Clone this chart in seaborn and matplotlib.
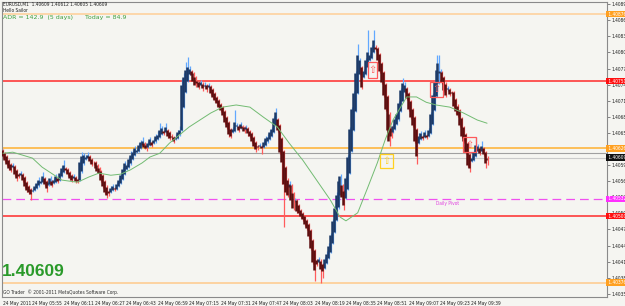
import numpy as np
import matplotlib
matplotlib.use("Agg")
import matplotlib.pyplot as plt
import matplotlib.font_manager as fm
import seaborn as sns
from matplotlib.patches import Rectangle

# Heiken Ashi M1 bars, prices as points above 1.40000 (1 point = 0.00001)
ha_open = [
    623, 617, 611, 604, 597, 591, 593, 585, 578, 576,
    578, 573, 564, 556, 550, 546, 548, 552, 557, 562,
    564, 570, 565, 558, 560, 565, 562, 564, 570, 568,
    574, 582, 589, 587, 582, 576, 571, 572, 569, 567,
    583, 598, 606, 608, 611, 606, 601, 600, 595, 589,
    584, 576, 566, 555, 547, 545, 548, 552, 551, 556,
    561, 569, 578, 588, 591, 598, 606, 613, 620, 621,
    627, 632, 636, 632, 629, 632, 638, 636, 639, 644,
    647, 653, 658, 657, 661, 656, 650, 648, 644, 646,
    652, 660, 703, 731, 752, 765, 770, 766, 759, 752,
    750, 745, 747, 742, 744, 740, 742, 736, 729, 722,
    716, 709, 703, 695, 685, 675, 663, 656, 659, 667,
    668, 664, 668, 666, 662, 664, 659, 654, 647, 638,
    631, 630, 631, 629, 633, 639, 643, 650, 656, 669,
    681, 670, 645, 622, 591, 568, 554, 557, 543, 529,
    529, 520, 512, 506, 500, 492, 485, 473, 456, 436,
    418, 414, 417, 410, 404, 412, 421, 433, 449, 470,
    492, 516, 540, 557, 546, 533, 551, 580, 621, 660,
    695, 730, 765, 778, 759, 764, 777, 791, 795, 805,
    816, 814, 802, 786, 768, 746, 723, 691, 665, 657,
    662, 671, 680, 695, 715, 731, 738, 729, 714, 700,
    685, 662, 637, 643, 649, 647, 651, 650, 655, 672,
    698, 724, 748, 766, 768, 759, 747, 736, 737, 732,
    731, 718, 706, 697, 683, 666, 653, 636, 615, 602,
    605, 612, 622, 626, 622, 626, 620, 609,
]
ha_close = [
    612, 605, 597, 590, 586, 595, 578, 570, 575, 580,
    568, 556, 548, 545, 541, 549, 556, 562, 568, 566,
    575, 560, 552, 563, 570, 558, 567, 575, 566, 580,
    590, 596, 585, 578, 571, 567, 574, 566, 565, 600,
    612, 614, 610, 614, 602, 597, 600, 590, 584, 580,
    568, 556, 545, 540, 542, 552, 556, 551, 560, 567,
    577, 588, 598, 595, 606, 614, 620, 627, 623, 632,
    638, 640, 629, 626, 636, 644, 633, 642, 649, 651,
    660, 664, 655, 666, 650, 645, 647, 640, 648, 657,
    660, 745, 760, 772, 778, 775, 762, 752, 745, 748,
    740, 749, 738, 745, 736, 744, 730, 722, 716, 710,
    703, 698, 688, 676, 666, 652, 650, 662, 675, 670,
    660, 672, 664, 658, 666, 654, 650, 640, 630, 625,
    628, 632, 627, 638, 645, 648, 656, 662, 682, 693,
    660, 620, 600, 560, 545, 540, 560, 530, 515, 530,
    510, 505, 500, 495, 485, 478, 462, 440, 415, 400,
    410, 420, 402, 398, 420, 430, 445, 465, 490, 515,
    540, 565, 574, 535, 520, 570, 610, 662, 700, 730,
    766, 800, 790, 740, 770, 790, 805, 800, 815, 828,
    812, 790, 770, 750, 725, 700, 660, 640, 650, 668,
    680, 690, 710, 735, 748, 745, 720, 700, 685, 670,
    640, 612, 650, 655, 645, 656, 648, 660, 690, 725,
    750, 772, 785, 770, 750, 735, 725, 738, 728, 730,
    705, 695, 688, 670, 650, 640, 620, 595, 590, 608,
    620, 632, 630, 618, 630, 615, 598, 604,
]
ha_high = [
    625, 619, 613, 606, 599, 599, 595, 587, 580, 584,
    580, 575, 566, 558, 552, 553, 560, 566, 572, 570,
    582, 572, 567, 567, 574, 567, 571, 579, 572, 584,
    594, 604, 591, 589, 584, 578, 578, 574, 571, 604,
    619, 618, 614, 619, 613, 608, 603, 602, 597, 591,
    586, 578, 568, 557, 549, 556, 560, 554, 564, 571,
    581, 592, 602, 599, 610, 621, 624, 631, 627, 636,
    642, 648, 638, 634, 640, 648, 640, 646, 653, 658,
    673, 668, 660, 673, 663, 658, 652, 650, 652, 661,
    668, 755, 766, 788, 797, 780, 772, 768, 761, 754,
    752, 753, 749, 749, 746, 748, 744, 738, 731, 724,
    718, 711, 705, 697, 687, 677, 665, 666, 698, 674,
    670, 676, 670, 668, 670, 666, 661, 656, 649, 640,
    633, 636, 633, 642, 649, 652, 660, 666, 686, 701,
    683, 672, 647, 624, 593, 570, 566, 559, 545, 534,
    531, 522, 514, 508, 502, 494, 487, 475, 458, 438,
    420, 424, 419, 412, 424, 434, 449, 469, 494, 519,
    544, 569, 578, 559, 548, 574, 614, 666, 704, 734,
    770, 820, 794, 780, 774, 794, 847, 804, 819, 847,
    818, 816, 804, 788, 770, 748, 725, 693, 667, 672,
    684, 694, 714, 739, 757, 749, 740, 731, 716, 702,
    687, 664, 654, 659, 651, 660, 653, 664, 694, 729,
    754, 800, 800, 774, 770, 761, 749, 742, 739, 734,
    733, 720, 708, 699, 685, 668, 655, 638, 617, 612,
    624, 648, 634, 628, 640, 628, 622, 611,
]
ha_low = [
    608, 601, 593, 586, 582, 589, 574, 566, 571, 574,
    564, 552, 544, 541, 530, 544, 546, 550, 555, 560,
    562, 556, 545, 556, 558, 554, 560, 562, 562, 566,
    572, 580, 581, 574, 567, 563, 569, 562, 561, 565,
    581, 596, 604, 606, 598, 593, 596, 586, 580, 576,
    564, 552, 541, 534, 538, 543, 546, 547, 549, 554,
    559, 567, 576, 586, 589, 596, 604, 611, 618, 619,
    625, 630, 625, 622, 627, 630, 629, 634, 637, 642,
    645, 651, 651, 655, 646, 641, 643, 636, 642, 644,
    650, 658, 701, 729, 750, 763, 758, 748, 741, 744,
    736, 743, 734, 740, 732, 738, 726, 718, 712, 706,
    699, 694, 684, 672, 662, 648, 646, 654, 657, 665,
    656, 662, 660, 654, 660, 650, 646, 636, 626, 620,
    624, 628, 616, 627, 631, 637, 641, 648, 654, 667,
    656, 616, 560, 480, 541, 536, 552, 526, 511, 527,
    506, 501, 496, 491, 481, 474, 458, 436, 411, 378,
    406, 412, 376, 385, 402, 410, 419, 431, 447, 468,
    490, 514, 538, 531, 512, 531, 549, 578, 619, 658,
    693, 728, 763, 736, 757, 762, 775, 789, 793, 803,
    808, 786, 766, 746, 721, 696, 656, 630, 646, 655,
    660, 669, 678, 693, 713, 729, 716, 696, 681, 666,
    636, 597, 635, 641, 641, 645, 644, 648, 653, 670,
    696, 722, 746, 764, 746, 731, 721, 734, 724, 726,
    701, 691, 684, 666, 646, 636, 616, 591, 582, 600,
    603, 610, 620, 614, 620, 611, 590, 596,
]

# moving average (green), read at sample bars
ma_bar = [0, 5, 15, 20, 30, 38, 44, 49, 55, 60, 65, 71, 75, 80, 85, 95,
          106, 112, 119, 126, 133, 140, 146, 153, 160, 167, 172, 175, 181,
          186, 191, 195, 199, 206, 211, 216, 221, 228, 235, 242, 247]
ma_pts = [617, 619, 608, 591, 567, 563, 573, 580, 576, 578, 586, 599, 610,
          617, 636, 666, 692, 703, 707, 703, 684, 666, 636, 604, 567, 530,
          498, 491, 506, 552, 599, 642, 679, 722, 722, 712, 707, 703, 692,
          679, 673]

# horizontal levels
level_pts = [876, 751, 626, 617, 609, 532, 500, 376]
level_col = ["#ffcf96", "#ff2a2a", "#ffb030", "#a0a0a0", "#cacaca",
             "#f050f0", "#ff2a2a", "#ffc98a"]
level_lw = [1.1, 1.1, 1.1, 0.8, 0.8, 0.9, 1.1, 1.1]
level_ls = ["-", "-", "-", "-", "-", (0, (7, 4)), "-", "-"]

# price tags on the right axis
tag_pts = [876, 751, 626, 609, 532, 500, 376]
tag_col = ["#ffa020", "#ff1010", "#ffa020", "#101010", "#ff30ff",
           "#ff1010", "#ffa020"]

# signal boxes (bar from, bar to, low, high)
sig_b0 = [186, 218, 234.5, 192.5]
sig_b1 = [191, 224.5, 241.5, 199]
sig_lo = [757, 722, 619, 589]
sig_hi = [787, 750, 647, 616]
sig_col = ["#ff5a5a", "#ff5a5a", "#ff5a5a", "#ffd020"]

xtick_bars = [0, 15, 31, 47, 63, 79, 95, 111, 127, 143, 159, 175, 191,
              207, 223, 239]
xtick_labels = ["24 May 2011", "24 May 05:55", "24 May 06:11",
                "24 May 06:27", "24 May 06:43", "24 May 06:59",
                "24 May 07:15", "24 May 07:31", "24 May 07:47",
                "24 May 08:03", "24 May 08:19", "24 May 08:35",
                "24 May 08:51", "24 May 09:07", "24 May 09:23",
                "24 May 09:39"]
ytick_pts = list(range(355, 900, 30))


def px(p):
    return 1.4 + np.asarray(p, dtype=float) * 1e-5


sns.set_style("white")
plt.rcParams["font.family"] = ["Liberation Sans", "DejaVu Sans"]
bg = "#f5f5f1"

# pick the narrowest small font available
names = {f.name for f in fm.fontManager.ttflist}
stretches = {(f.name, str(f.stretch)) for f in fm.fontManager.ttflist}
if "Liberation Sans Narrow" in names:
    small = dict(family="Liberation Sans Narrow")
elif ("DejaVu Sans", "condensed") in stretches or ("DejaVu Sans", "semi-condensed") in stretches:
    small = dict(family="DejaVu Sans", stretch="condensed")
else:
    small = dict(family="Liberation Sans")

fig = plt.figure(figsize=(6.25, 3.06), dpi=100, facecolor=bg)
ax = fig.add_axes([2 / 625, 9 / 306, 605 / 625, 295 / 306], facecolor=bg)

# size the small font so "24 May 05:55" is about 29 px wide, like the terminal
rend = fig.canvas.get_renderer()
probe = fig.text(0, 0, "24 May 05:55", fontsize=10, **small)
w10 = probe.get_window_extent(rend).width
probe.remove()
fs = min(5.2, 10 * 30 / w10)
small["fontsize"] = fs

o, c, h, l = px(ha_open), px(ha_close), px(ha_high), px(ha_low)
x = np.arange(len(o))
bull = c >= o

for lv, col, lw, ls in zip(level_pts, level_col, level_lw, level_ls):
    ax.axhline(px(lv), color=col, lw=lw, ls=ls, zorder=1)

ax.vlines(x[bull] + 0.25, l[bull], h[bull], color="#62a8ff", lw=0.9, zorder=2)
ax.vlines(x[~bull] + 0.25, l[~bull], h[~bull], color="#ff5c5c", lw=0.9, zorder=2)
ax.vlines(x[bull] - 0.3, o[bull], c[bull], color="#1d3a66", lw=1.8, zorder=3)
ax.vlines(x[~bull] - 0.3, o[~bull], c[~bull], color="#5c0f10", lw=1.8, zorder=3)

sns.lineplot(x=ma_bar, y=px(ma_pts), ax=ax, color="#72bb72", lw=0.7,
             estimator=None, sort=False, zorder=4)

for b0, b1, lo, hi, col in zip(sig_b0, sig_b1, sig_lo, sig_hi, sig_col):
    ax.add_patch(Rectangle((b0, px(lo)), b1 - b0, px(hi) - px(lo),
                           fill=False, ec=col, lw=0.9, zorder=5))
    ax.text((b0 + b1) / 2, (px(lo) + px(hi)) / 2, "\u21e7", color=col,
            fontsize=7, ha="center", va="center", family="DejaVu Sans",
            zorder=5)

ax.text(221, px(524), "Daily Pivot", color="#e040e0", va="center",
        ha="left", **small)

ax.set_xlim(-0.5, 308.2)
ax.set_ylim(px(349), px(899))
ax.set_xticks(xtick_bars)
ax.set_xticklabels(xtick_labels, ha="left", **small)
ax.yaxis.tick_right()
ax.set_yticks(px(ytick_pts))
ax.set_yticklabels([f"{v:.5f}" for v in px(ytick_pts)], **small)
ax.tick_params(axis="both", length=2, width=0.6, pad=1,
               colors="#707070", labelcolor="#202020", direction="out")
for s in ax.spines.values():
    s.set_color("#8a8a8a")
    s.set_linewidth(0.8)

for v, col in zip(tag_pts, tag_col):
    ax.text(1.0, px(v), f" {px(v):.5f}", transform=ax.get_yaxis_transform(),
            color="white", va="center", ha="left",
            bbox=dict(boxstyle="square,pad=0.12", fc=col, ec="none"),
            zorder=6, clip_on=False, **small)


def ftext(xp, yp, s, **kw):
    fig.text(xp / 625, 1 - yp / 306, s, va="center", ha="left", **kw)


ftext(3, 4, "EURUSD,M1  1.40609 1.40612 1.40605 1.40609", color="#202020",
      **small)
ftext(3, 10, "Hello Sailor", color="#202020", **small)
ftext(3, 17, "ADR = 142.9  (5 days)      Today = 84.9", color="#3ea03e",
      family=small["family"], fontsize=fs * 1.3)
ftext(2, 271, "1.40609", fontsize=12.5, color="#2a9a2a", weight="bold",
      family=["Liberation Sans", "DejaVu Sans"])
ftext(3, 292, "GO Trader  \u00a9 2001-2011 MetaQuotes Software Corp.",
      color="#303030", **small)

fig.savefig("out.png", dpi=100, facecolor=bg)
